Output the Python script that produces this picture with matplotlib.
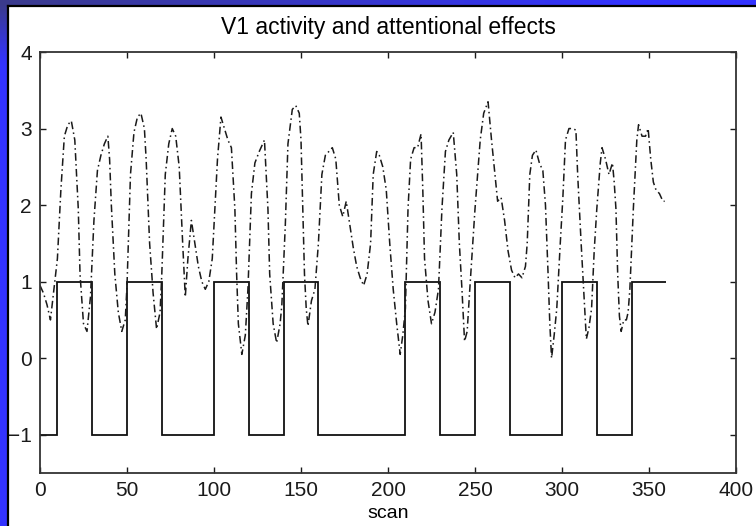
import numpy as np
import matplotlib
matplotlib.use("Agg")
import matplotlib.pyplot as plt
from matplotlib.patches import Rectangle

plt.rcParams['font.family'] = ['Liberation Sans', 'DejaVu Sans']

# attention blocks (square wave): edges in scans and level in each block
block_edges = [0, 10, 30, 50, 70, 100, 120, 140, 160, 210, 230, 250, 270, 300, 320, 340, 360]
block_levels = [-1, 1, -1, 1, -1, 1, -1, 1, -1, 1, -1, 1, -1, 1, -1, 1]

# V1 activity
scan = [0, 2, 4, 6, 8, 10, 12, 14, 16, 18, 20, 22, 23, 25, 27, 29, 31, 33, 35, 37,
        39, 40, 41, 43, 45, 47, 49, 50, 52, 54, 56, 58, 60, 61, 63, 65, 67, 69, 70, 72,
        74, 76, 78, 80, 82, 83.5, 85, 87, 89, 91, 93, 95, 97, 99, 100.5, 102, 104, 106, 108, 110,
        112, 113, 114, 116, 118, 119.5, 121.5, 123.5, 126, 129, 131, 132, 134, 136, 138, 139, 141, 142.5, 145, 147,
        149, 150, 151, 152, 153, 154, 156, 158, 160, 162, 164, 166, 168, 170, 172, 174, 176, 178, 180, 182,
        184, 186, 188, 190, 191.5, 193.5, 195, 197, 199, 201, 203, 205, 207, 208.5, 210, 211.5, 213, 215, 217, 219,
        220, 221, 223, 225, 227, 229, 231, 233, 235, 237.5, 239.5, 241, 242.5, 244, 245.5, 247, 250, 253, 255, 257.5,
        259.5, 261.5, 263, 265, 267, 269, 271, 273, 275, 277, 279, 280, 281.5, 283, 285, 287, 289, 290.5, 292, 293,
        294, 295.5, 297, 299, 300.5, 302, 304, 306, 308, 309, 311, 313, 314, 315.5, 317, 318.5, 320, 322, 323, 325,
        327, 329, 330, 331, 332, 333, 334, 335.5, 337, 338, 339, 341, 343, 344, 346, 348, 349.5, 351, 352.5, 354,
        356, 358, 359]
v1 = [0.95, 0.85, 0.7, 0.5, 0.9, 1.3, 2.2, 2.9, 3.05, 3.1, 2.85, 1.95, 1.1, 0.45, 0.35, 0.8, 1.8, 2.45, 2.65, 2.8,
      2.9, 2.6, 2.0, 1.1, 0.6, 0.35, 0.5, 0.95, 2.4, 2.95, 3.15, 3.2, 3.0, 2.6, 1.5, 0.85, 0.38, 0.6, 1.1, 2.4,
      2.8, 3.0, 2.9, 2.5, 1.5, 0.8, 1.3, 1.8, 1.5, 1.2, 1.0, 0.9, 1.0, 1.3, 1.95, 2.6, 3.15, 3.0, 2.85, 2.75,
      1.95, 1.1, 0.45, 0.05, 0.3, 0.9, 2.15, 2.55, 2.7, 2.85, 1.95, 1.1, 0.45, 0.2, 0.45, 0.7, 1.75, 2.8, 3.25, 3.3,
      3.2, 2.85, 1.95, 1.1, 0.65, 0.42, 0.75, 0.9, 1.5, 2.4, 2.65, 2.7, 2.75, 2.6, 2.0, 1.85, 2.05, 1.75, 1.45, 1.2,
      1.05, 0.95, 1.1, 1.5, 2.4, 2.7, 2.65, 2.5, 2.2, 1.5, 0.9, 0.45, 0.05, 0.3, 0.65, 1.95, 2.6, 2.75, 2.75, 2.93,
      2.2, 1.3, 0.75, 0.45, 0.6, 0.9, 1.95, 2.7, 2.85, 2.95, 2.4, 1.5, 0.9, 0.22, 0.35, 0.9, 1.95, 2.85, 3.2, 3.35,
      2.85, 2.4, 2.05, 2.1, 1.8, 1.4, 1.15, 1.05, 1.1, 1.05, 1.2, 1.5, 2.4, 2.65, 2.72, 2.55, 2.45, 2.0, 1.1, 0.45,
      0.0, 0.3, 0.65, 1.5, 2.1, 2.85, 3.0, 3.0, 2.98, 2.4, 1.5, 0.65, 0.25, 0.4, 0.65, 1.4, 1.95, 2.55, 2.75, 2.6,
      2.4, 2.55, 2.3, 1.95, 1.1, 0.55, 0.35, 0.5, 0.5, 0.6, 0.9, 1.95, 2.85, 3.05, 2.9, 2.9, 3.0, 2.6, 2.3, 2.2,
      2.15, 2.05, 2.05]

xticks = [0, 50, 100, 150, 200, 250, 300, 350, 400]
yticks = [-1, 0, 1, 2, 3, 4]

W, H = 756, 526
fig = plt.figure(figsize=(W / 100, H / 100), dpi=100)

# slide background: blue gradient border on the left and top
bg = fig.add_axes([0, 0, 1, 1], zorder=-10)
gx = np.linspace(0, 1, 80)
gy = np.linspace(0, 1, 60)[:, None]
t = np.clip(gx[None, :] * 1.2 + gy * 9, 0, 1)
dark = np.array([0.23, 0.23, 0.55])
bright = np.array([0.2, 0.2, 1.0])
img = dark * (1 - t[..., None]) + bright * t[..., None]
bg.imshow(img, extent=[0, W, H, 0], aspect='auto', interpolation='bilinear')
bg.add_patch(Rectangle((9, 6), W - 9, H - 6, facecolor='white', edgecolor='none'))
bg.plot([8, 8], [5.5, H], color='black', lw=1.6)
bg.plot([8, W], [5.5, 5.5], color='black', lw=1.6)
bg.set_xlim(0, W)
bg.set_ylim(H, 0)
bg.axis('off')

ax = fig.add_axes([40 / W, 1 - 473 / H, 696 / W, 421 / H])
ax.stairs(block_levels, block_edges, baseline=None, color='#111111', lw=1.3)
ax.plot(scan, v1, color='#1a1a1a', lw=1.1, dashes=(5, 2.2, 1, 2.2))

ax.set_xlim(0, 400)
ax.set_ylim(-1.5, 4)
ax.set_xticks(xticks)
ax.set_yticks(yticks)
ax.tick_params(direction='in', length=4, width=1, top=True, right=True,
               labelsize=15, pad=6, colors='#1a1a1a')
for s in ax.spines.values():
    s.set_color('#333333')
    s.set_linewidth(1.3)

ax.set_title('V1 activity and attentional effects', fontsize=16.5, pad=13)
ax.set_xlabel('scan', fontsize=14, labelpad=3)

fig.savefig('out.png', dpi=100)
